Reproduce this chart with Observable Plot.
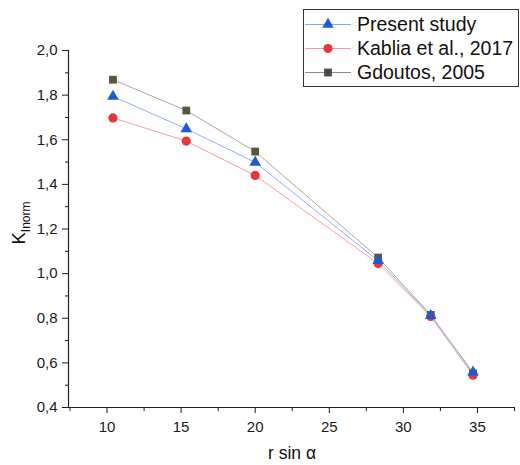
<!DOCTYPE html>
<html>
<head>
<meta charset="utf-8">
<script src="https://cdn.jsdelivr.net/npm/d3@7"></script>
<script src="https://cdn.jsdelivr.net/npm/@observablehq/plot@0.6"></script>
<style>
  html, body { margin: 0; padding: 0; background: #fff; }
  #chart { position: relative; width: 520px; height: 465px; }
  svg { font-family: "Liberation Sans", Arial, sans-serif; }
</style>
</head>
<body>
<div id="chart"></div>
<script>
// Data
const xValues = [10.4, 15.35, 20.0, 28.3, 31.85, 34.7];
const presentStudy = [1.794, 1.649, 1.499, 1.058, 0.812, 0.558];
const kablia2017 = [1.698, 1.594, 1.440, 1.045, 0.808, 0.545];
const gdoutos2005 = [1.869, 1.731, 1.547, 1.072, 0.815, 0.553];
const seriesNames = ["Present study", "Kablia et al., 2017", "Gdoutos, 2005"];
const yTicks = [0.4, 0.6, 0.8, 1.0, 1.2, 1.4, 1.6, 1.8, 2.0];
const yMinorTicks = [0.5, 0.7, 0.9, 1.1, 1.3, 1.5, 1.7, 1.9];
const xTicks = [10, 15, 20, 25, 30, 35];
const xMinorTicks = [7.5, 12.5, 17.5, 22.5, 27.5, 32.5, 37.5];

const styles = {
  "Present study": {line: "#8fb2f2", fill: "#1f5bd0", symbol: "triangle", r: 4.3},
  "Kablia et al., 2017": {line: "#f4a2a4", fill: "#e8363e", symbol: "circle", r: 4.6},
  "Gdoutos, 2005": {line: "#a9a99a", fill: "#58583c", symbol: "square", r: 4.4}
};
const legendMarker = {"Present study": "#1f5bd0", "Kablia et al., 2017": "#e8363e", "Gdoutos, 2005": "#4a4a4a"};
const legendLine = {"Present study": "#7fa6f0", "Kablia et al., 2017": "#f49aa0", "Gdoutos, 2005": "#8a8a8a"};

const rows = [];
[presentStudy, kablia2017, gdoutos2005].forEach((vals, i) => {
  vals.forEach((v, j) => rows.push({series: seriesNames[i], x: xValues[j], y: v}));
});
const drawOrder = ["Gdoutos, 2005", "Kablia et al., 2017", "Present study"];

const fmt = d => d.toFixed(1).replace(".", ",");
const xMin = 7.4, xMax = 37.5;

const marks = [
  Plot.axisY({ticks: yTicks, tickSize: 6, tickPadding: 5, tickFormat: fmt, label: null, fontSize: 15, anchor: "left"}),
  Plot.axisY({ticks: yMinorTicks, tickSize: 3, tickFormat: () => "", label: null, anchor: "left"}),
  Plot.axisX({ticks: xTicks, tickSize: 6, tickPadding: 8, label: null, fontSize: 15, anchor: "bottom"}),
  Plot.axisX({ticks: xMinorTicks, tickSize: 4, tickFormat: () => "", label: null, anchor: "bottom"}),
  Plot.ruleX([xMin], {stroke: "#222", strokeWidth: 1.2}),
  Plot.ruleY([0.4], {stroke: "#222", strokeWidth: 1.2})
];
for (const s of drawOrder) {
  const st = styles[s];
  marks.push(Plot.line(rows.filter(d => d.series === s), {x: "x", y: "y", stroke: st.line, strokeWidth: 1}));
}
for (const s of drawOrder) {
  const st = styles[s];
  marks.push(Plot.dot(rows.filter(d => d.series === s), {x: "x", y: "y", symbol: () => st.symbol, fill: st.fill, stroke: "none", r: st.r}));
}

const plot = Plot.plot({
  width: 520,
  height: 465,
  marginLeft: 68,
  marginRight: 6,
  marginTop: 50,
  marginBottom: 58,
  style: {fontFamily: "Liberation Sans, Arial, sans-serif", fontSize: "15px", color: "#1a1a1a", background: "#fff"},
  x: {domain: [xMin, xMax]},
  y: {domain: [0.4, 2.0]},
  symbol: {type: "identity"},
  marks
});
document.getElementById("chart").appendChild(plot);

// Axis titles and legend
const svg = d3.select(plot);
svg.append("text")
  .attr("x", 292).attr("y", 459)
  .attr("text-anchor", "middle")
  .attr("font-size", 17.5).attr("fill", "#111")
  .text("r sin α");

const yl = svg.append("text")
  .attr("transform", "translate(25,223) rotate(-90)")
  .attr("text-anchor", "middle")
  .attr("font-size", 18.5).attr("fill", "#111");
yl.append("tspan").text("K");
yl.append("tspan").attr("font-size", 12).attr("dy", 5).text("Inorm");

const lg = svg.append("g").attr("text-anchor", "start");
lg.append("rect").attr("x", 303.5).attr("y", 9.5).attr("width", 215).attr("height", 77)
  .attr("fill", "#fff").attr("stroke", "#333").attr("stroke-width", 1);
const symMap = {triangle: d3.symbolTriangle, circle: d3.symbolCircle, square: d3.symbolSquare};
seriesNames.forEach((name, i) => {
  const st = styles[name];
  const cy = 24.5 + i * 24;
  lg.append("line").attr("x1", 305).attr("x2", 351).attr("y1", cy).attr("y2", cy)
    .attr("stroke", legendLine[name]).attr("stroke-width", 1);
  lg.append("path")
    .attr("d", d3.symbol(symMap[st.symbol], Math.PI * st.r * st.r)())
    .attr("transform", `translate(328,${cy})`)
    .attr("fill", legendMarker[name]);
  lg.append("text").attr("x", 357).attr("y", cy + 6.8)
    .attr("text-anchor", "start")
    .attr("font-size", 19.5).attr("fill", "#111").text(name);
});
</script>
</body>
</html>
